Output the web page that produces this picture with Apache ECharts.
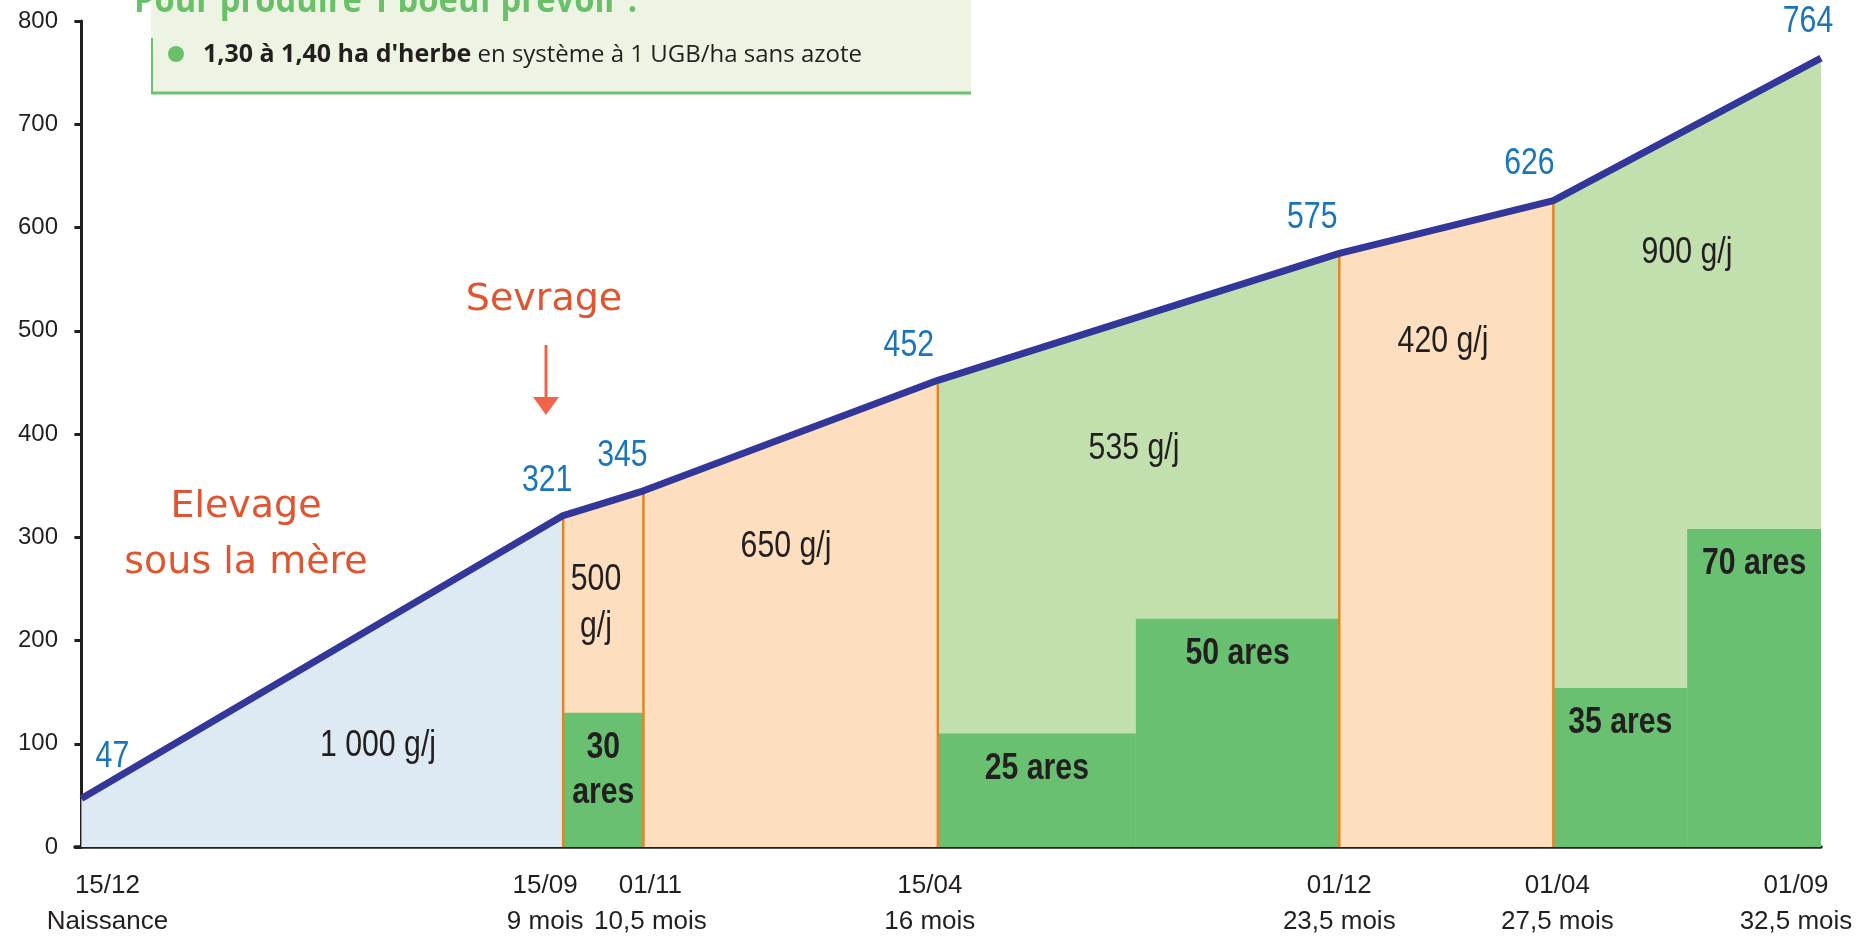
<!DOCTYPE html>
<html>
<head>
<meta charset="utf-8">
<script src="https://cdn.jsdelivr.net/npm/echarts@6/dist/echarts.min.js"></script>
<style>
  html, body { margin: 0; padding: 0; background: #fff; }
  #main { width: 1863px; height: 938px; }
</style>
</head>
<body>
<div id="main"></div>
<script>
// axe des x : âge en mois depuis la naissance
const months = [0, 9, 10.5, 16, 23.5, 27.5, 32.5];
const dates = ['15/12', '15/09', '01/11', '15/04', '01/12', '01/04', '01/09'];
const ages = ['Naissance', '9 mois', '10,5 mois', '16 mois', '23,5 mois', '27,5 mois', '32,5 mois'];
// poids vif (kg)
const weights = [47, 321, 345, 452, 575, 626, 764];
// GMQ par période
const gains = ['1 000', '500', '650', '535', '420', '900'];
// surfaces d'herbe (blocs verts)
const aresStart = [9, 16, 19.7, 27.5, 30];
const aresEnd = [10.5, 19.7, 23.5, 30, 32.5];
const aresHeight = [130, 110, 221, 154, 308];
const aresValues = [30, 25, 50, 35, 70];
const yTicks = [0, 100, 200, 300, 400, 500, 600, 700, 800];

// mise en page
const SANS = "'Liberation Sans', Arial, sans-serif";
const TXT = '#231f20';
const NARROWX = 0.84; // pas de police étroite installée : on compresse le texte
const labelDx = [31, -16, -21, -29, -27, -24, -13];
const labelDy = [-41, -34, -35, -34, -35, -37, -36];
const xLabelShift = [26, -18, 7, -8, 0, 4, -25];
// périodes de fond : [indice début, indice fin, couleur]
const periods = [[0, 1, '#dde9f3'], [1, 3, '#fddfbf'], [3, 4, '#c2e0ae'], [4, 5, '#fddfbf'], [5, 6, '#c2e0ae']];
// position des textes de GMQ (px)
const gainPos = [[378, 746], [596, 604], [786, 547], [1134, 449], [1443, 342], [1687, 253]];

const chart = echarts.init(document.getElementById('main'));

const pts = months.map((m, i) => [m, weights[i]]);

const areaSeries = periods.map(p => ({
  type: 'line',
  data: pts.slice(p[0], p[1] + 1),
  symbol: 'none',
  lineStyle: { width: 0 },
  areaStyle: { color: p[2], opacity: 1 },
  silent: true,
  z: 1
}));

const rich = {};
xLabelShift.forEach((s, i) => {
  rich['l' + i] = {
    fontFamily: SANS, fontSize: 26, color: TXT, lineHeight: 36,
    padding: s > 0 ? [0, 0, 0, 2 * s] : [0, -2 * s, 0, 0]
  };
});

function narrowText(x, y, text, font, fill, lineHeight) {
  return {
    type: 'text', x: x, y: y, scaleX: NARROWX, z: 12,
    style: { text: text, x: 0, y: 0, font: font, fill: fill, lineHeight: lineHeight,
      align: 'center', verticalAlign: 'middle' }
  };
}

const option = {
  animation: false,
  grid: { left: 75, right: 42, top: 21, bottom: 91, containLabel: false, outerBoundsMode: 'none' },
  xAxis: {
    type: 'value', min: -0.12, max: 32.5,
    axisLine: { lineStyle: { color: TXT, width: 3.5 } },
    axisTick: { show: false },
    splitLine: { show: false },
    axisLabel: {
      customValues: months,
      margin: 21,
      rich: rich,
      formatter: v => {
        const i = months.indexOf(v);
        return '{l' + i + '|' + dates[i] + '}\n{l' + i + '|' + ages[i] + '}';
      }
    }
  },
  yAxis: {
    type: 'value', min: 0, max: 800, interval: 100,
    axisLine: { show: true, lineStyle: { color: TXT, width: 3 } },
    axisTick: { show: true, length: 7, lineStyle: { color: TXT, width: 3 } },
    splitLine: { show: false },
    axisLabel: {
      color: TXT, fontFamily: SANS, fontSize: 24, margin: 17,
      padding: [0, 0, 14, 0],
      formatter: v => yTicks.includes(v) ? String(v) : ''
    }
  },
  series: [
    ...areaSeries,
    {
      type: 'custom',
      data: aresValues.map((a, i) => [aresStart[i], aresEnd[i], aresHeight[i], a]),
      encode: { x: [0, 1], y: 2 },
      z: 2,
      silent: true,
      renderItem: (params, api) => {
        const p0 = api.coord([api.value(0), 0]);
        const p1 = api.coord([api.value(1), api.value(2)]);
        const w = p1[0] - p0[0];
        const txt = api.value(3) + (w < 110 ? '\nares' : ' ares');
        return {
          type: 'group',
          children: [
            { type: 'rect', shape: { x: p0[0], y: p1[1], width: w, height: p0[1] - p1[1] },
              style: { fill: '#68c070' } },
            { type: 'text', x: p0[0] + w / 2, y: p1[1] + 13, scaleX: NARROWX,
              style: { text: txt, x: 0, y: 0,
              align: 'center', verticalAlign: 'top', lineHeight: 45,
              font: 'bold 36px ' + SANS, fill: TXT } }
          ]
        };
      }
    },
    {
      type: 'custom',
      data: pts.slice(1, 6),
      encode: { x: 0, y: 1 },
      z: 3,
      silent: true,
      renderItem: (params, api) => {
        const a = api.coord([api.value(0), 0]);
        const b = api.coord([api.value(0), api.value(1)]);
        return { type: 'line', shape: { x1: a[0], y1: a[1], x2: b[0], y2: b[1] },
          style: { stroke: '#e0862a', lineWidth: 2.5 } };
      }
    },
    {
      type: 'line',
      z: 5,
      data: pts,
      symbol: 'none',
      lineStyle: { color: '#34379a', width: 7 }
    },
    {
      type: 'custom',
      data: pts,
      encode: { x: 0, y: 1 },
      z: 6,
      silent: true,
      renderItem: (params, api) => {
        const c = api.coord([api.value(0), api.value(1)]);
        const i = params.dataIndex;
        return { type: 'text', x: c[0] + labelDx[i], y: c[1] + labelDy[i], scaleX: NARROWX,
          style: { text: String(api.value(1)), x: 0, y: 0, font: '36px ' + SANS,
            fill: '#1a75bc', align: 'center', verticalAlign: 'middle' } };
      }
    }
  ],
  graphic: [
    { type: 'rect', shape: { x: 151, y: 0, width: 820, height: 93 }, style: { fill: '#edf4e3' }, z: 10 },
    { type: 'line', shape: { x1: 152, y1: 38, x2: 152, y2: 93 }, style: { stroke: '#6cc070', lineWidth: 2 }, z: 11 },
    { type: 'line', shape: { x1: 151, y1: 93, x2: 971, y2: 93 }, style: { stroke: '#6cc070', lineWidth: 3 }, z: 11 },
    { type: 'text', x: 134, y: 2, z: 12, scaleX: 0.935,
      style: { text: 'Pour produire 1 boeuf prévoir :', x: 0, y: 0, font: "bold 35px 'Open Sans', sans-serif",
        fill: '#6abf69', verticalAlign: 'middle' } },
    { type: 'circle', shape: { cx: 176, cy: 54, r: 8 }, style: { fill: '#6abf69' }, z: 12 },
    { type: 'text', x: 203, y: 55, z: 12,
      style: {
        text: '{b|1,30 à 1,40 ha d\'herbe}{n| en système à 1 UGB/ha sans azote}',
        verticalAlign: 'middle',
        rich: {
          b: { fontFamily: 'Open Sans', fontWeight: 'bold', fontSize: 25, fill: TXT },
          n: { fontFamily: 'Open Sans', fontSize: 24, fill: TXT }
        }
      } },
    // annotations
    { type: 'text', x: 544, y: 300, z: 12,
      style: { text: 'Sevrage', font: "38px 'DejaVu Sans', sans-serif", fill: '#e0552f', align: 'center', verticalAlign: 'middle' } },
    { type: 'line', shape: { x1: 546, y1: 345, x2: 546, y2: 400 }, style: { stroke: '#f0654a', lineWidth: 3 }, z: 12 },
    { type: 'polygon', shape: { points: [[533, 397], [559, 397], [546, 415]] }, style: { fill: '#f0654a' }, z: 12 },
    { type: 'text', x: 246, y: 507, z: 12,
      style: { text: 'Elevage', font: "38px 'DejaVu Sans', sans-serif", fill: '#e0552f', align: 'center', verticalAlign: 'middle' } },
    { type: 'text', x: 246, y: 563, z: 12,
      style: { text: 'sous la mère', font: "38px 'DejaVu Sans', sans-serif", fill: '#e0552f', align: 'center', verticalAlign: 'middle' } },
    ...gains.map((g, i) => narrowText(gainPos[i][0], gainPos[i][1],
      i === 1 ? g + '\ng/j' : g + ' g/j', '36px ' + SANS, TXT, 47))
  ]
};

chart.setOption(option);
</script>
</body>
</html>
